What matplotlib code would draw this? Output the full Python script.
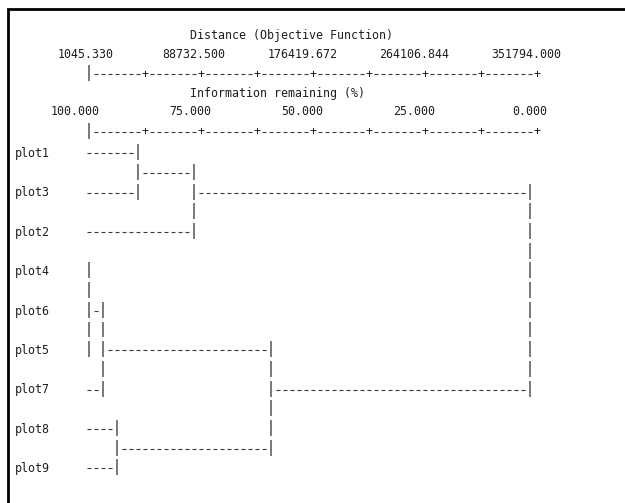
"""PC-ORD style text dendrogram (Ward's / information remaining)."""
import matplotlib
matplotlib.use("Agg")
import matplotlib.pyplot as plt
from matplotlib.lines import Line2D

W, H, DPI = 625, 503, 100

# leaves in printed order
LEAVES = ["plot1", "plot3", "plot2", "plot4", "plot6", "plot5", "plot7", "plot8", "plot9"]
# merge steps: cluster A + cluster B at a level of information remaining (%)
MERGE_A = ["plot1", "m1", "plot4", "m3", "m4", "plot8", "m5", "m2"]
MERGE_B = ["plot3", "plot2", "plot6", "plot5", "plot7", "plot9", "m6", "m7"]
MERGE_INFO = [88.9, 76.2, 100.0, 100.0, 96.8, 93.7, 58.7, 0.0]

DIST_TICKS = [1045.330, 88732.500, 176419.672, 264106.844, 351794.000]
INFO_TICKS = [100.0, 75.0, 50.0, 25.0, 0.0]

# character grid of the printout
CHAR_W = 7.0        # px per column
COL0_X = 88.7       # px of column 0
ROW_H = 19.7        # px per text line
ROW0_Y = 153.3      # px of first leaf line
TREE_COLS = 63
RULER_COLS = 64
FONT = "DejaVu Sans Mono"
FSIZE = CHAR_W * 72 / (DPI * 0.6021)
TXT = "#1e1e1e"
BASE = 3.6 / ROW_H   # baseline below the line's centre, in rows


def px_col(px):
    return (px - COL0_X) / CHAR_W


def px_row(py):
    return (py - ROW0_Y) / ROW_H


def info_col(v):
    return int(round((100.0 - v) / 100.0 * TREE_COLS))


def text(ax, col, row, s, ha="left"):
    ax.text(col, row + BASE, s, ha=ha, va="baseline", family=FONT,
            fontsize=FSIZE, color=TXT)


def dashes(ax, row, c_from, c_to):
    cols = list(range(c_from, c_to + 1))
    if cols:
        ax.hlines([row] * len(cols), [c - 0.29 for c in cols], [c + 0.29 for c in cols],
                  color="#3a3a3a", lw=0.8)


def bars(ax, cells):
    xs = [c for c, r in cells]
    rs = [r for c, r in cells]
    ax.vlines(xs, [r - 0.46 for r in rs], [r + 0.35 for r in rs], color="#555555", lw=1.1)


def ruler(ax, row):
    dashes_cols = [c for c in range(1, RULER_COLS) if c % 8]
    for c in dashes_cols:
        dashes(ax, row, c, c)
    for c in range(8, RULER_COLS + 1, 8):
        text(ax, c, row, "+", ha="center")
    bars(ax, [(0, row)])


def main():
    fig = plt.figure(figsize=(W / DPI, H / DPI), dpi=DPI)
    ax = fig.add_axes([0, 0, 1, 1])
    ax.set_xlim(px_col(0), px_col(W))
    ax.set_ylim(px_row(H), px_row(0))
    ax.axis("off")

    # header block
    r_title1, r_dist, r_rul1 = px_row(35.6), px_row(54.8), px_row(74.0)
    r_title2, r_info, r_rul2 = px_row(93.3), px_row(111.7), px_row(131.7)
    text(ax, 14.5, r_title1, "Distance (Objective Function)")
    for k, v in enumerate(DIST_TICKS):
        text(ax, 3 + 16 * k + 0.5, r_dist, f"{v:.3f}", ha="right")
    ruler(ax, r_rul1)
    text(ax, 14.5, r_title2, "Information remaining (%)")
    for k, v in enumerate(INFO_TICKS):
        text(ax, 1 + 16 * k + 0.5, r_info, f"{v:.3f}", ha="right")
    ruler(ax, r_rul2)

    # tree
    row = {name: 2 * i for i, name in enumerate(LEAVES)}
    col = {}
    bar_cells = set()
    for i, (a, b, v) in enumerate(zip(MERGE_A, MERGE_B, MERGE_INFO)):
        c = info_col(v)
        for ch in (a, b):
            start = 0 if ch in LEAVES else col[ch] + 1
            dashes(ax, row[ch], start, c - 1)
        lo, hi = sorted((row[a], row[b]))
        bar_cells.update((c, r) for r in range(lo, hi + 1))
        name = f"m{i + 1}"
        row[name] = (row[a] + row[b]) // 2
        col[name] = c
    bars(ax, sorted(bar_cells))

    for name in LEAVES:
        text(ax, -10.5, row[name], name)

    # frame (top and left edges of the printout box)
    fig.add_artist(Line2D([7.7 / W, 7.7 / W, 1.0], [0.0, 1 - 8.7 / H, 1 - 8.7 / H],
                          transform=fig.transFigure, color="black", lw=2.0,
                          solid_joinstyle="miter"))

    fig.savefig("out.png", dpi=DPI)
    plt.close(fig)


if __name__ == "__main__":
    main()
